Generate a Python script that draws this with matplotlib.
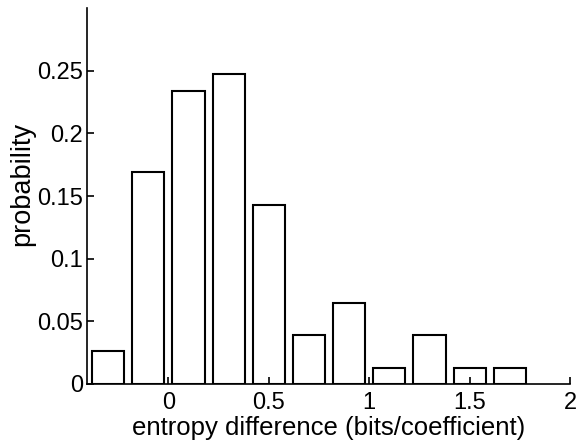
import matplotlib
matplotlib.use("Agg")
import matplotlib.pyplot as plt

centers = [-0.3, -0.1, 0.1, 0.3, 0.5, 0.7, 0.9, 1.1, 1.3, 1.5, 1.7]
probs = [0.026, 0.169, 0.234, 0.247, 0.143, 0.039, 0.065, 0.013, 0.039, 0.013, 0.013]
xticks = [0, 0.5, 1, 1.5, 2]
xticklabels = ["0", "0.5", "1", "1.5", "2"]
yticks = [0, 0.05, 0.1, 0.15, 0.2, 0.25]
yticklabels = ["0", "0.05", "0.1", "0.15", "0.2", "0.25"]

plt.rcParams['font.family'] = ['Liberation Sans', 'DejaVu Sans']
fig = plt.figure(figsize=(5.8, 4.47), dpi=100)
ax = fig.add_axes([0.15, 0.141, 0.833, 0.841])
ax.bar(centers, probs, width=0.16, facecolor='white', edgecolor='black', linewidth=1.5)
ax.set_xlim(-0.405, 2.0)
ax.set_ylim(0, 0.3)
ax.set_xticks(xticks)
ax.set_xticklabels(xticklabels)
ax.set_yticks(yticks)
ax.set_yticklabels(yticklabels)
for s in ['top', 'right']:
    ax.spines[s].set_visible(False)
for s in ['left', 'bottom']:
    ax.spines[s].set_linewidth(1.2)
ax.tick_params(direction='in', length=5, width=1.2, labelsize=17)
ax.tick_params(axis='x', pad=6)
ax.tick_params(axis='y', pad=3)
ax.set_xlabel("entropy difference (bits/coefficient)", fontsize=18.5)
ax.set_ylabel("probability", fontsize=19.5)
ax.xaxis.set_label_coords(0.5, -0.085)
ax.yaxis.set_label_coords(-0.108, 0.532)
fig.savefig("out.png", dpi=100)
